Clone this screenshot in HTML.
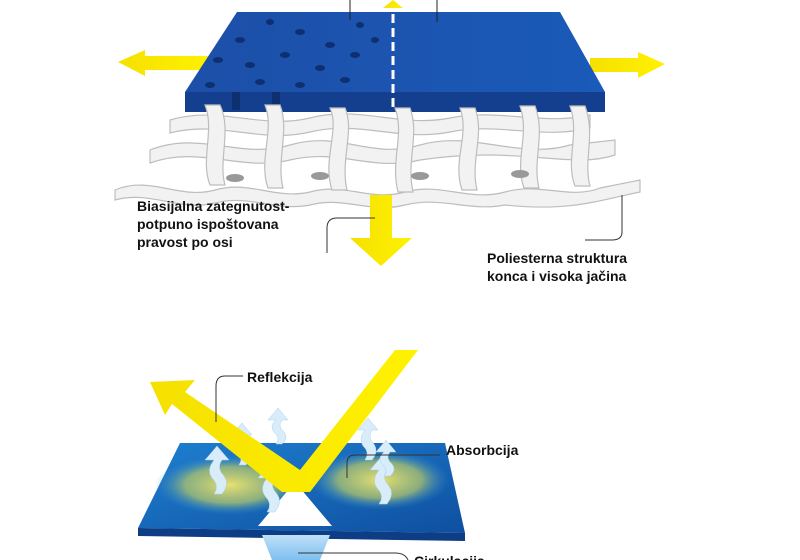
<!DOCTYPE html>
<html><head><meta charset="utf-8"><style>
html,body{margin:0;padding:0;background:#fff;width:800px;height:560px;overflow:hidden}
text{font-family:"Liberation Sans",sans-serif;font-weight:bold;font-size:14px;fill:#111}
</style></head><body>
<svg width="800" height="560" viewBox="0 0 800 560" xmlns="http://www.w3.org/2000/svg">
<defs>
<linearGradient id="bl" x1="0" y1="0" x2="1" y2="0"><stop offset="0" stop-color="#1d4fa8"/><stop offset="1" stop-color="#1a5ab8"/></linearGradient>
<linearGradient id="yl" x1="0" y1="0" x2="1" y2="0"><stop offset="0" stop-color="#f5e000"/><stop offset="1" stop-color="#fff200"/></linearGradient>
<radialGradient id="glow" cx="0.5" cy="0.5" r="0.5"><stop offset="0" stop-color="#e8e070"/><stop offset="0.6" stop-color="#a8c070" stop-opacity="0.8"/><stop offset="1" stop-color="#2a8ad0" stop-opacity="0"/></radialGradient>
<linearGradient id="bb" x1="0" y1="0" x2="1" y2="1"><stop offset="0" stop-color="#1e7fd0"/><stop offset="1" stop-color="#0f4fa0"/></linearGradient>
<linearGradient id="ca" x1="0" y1="0" x2="0" y2="1"><stop offset="0" stop-color="#bfe0f8"/><stop offset="1" stop-color="#7fc0f0"/></linearGradient>
</defs>
<!-- top yellow side arrows -->
<polygon points="118,62 145,50 145,56 215,56 215,70 145,70 145,76" fill="url(#yl)"/>
<polygon points="665,64 638,52 638,58 590,58 590,72 638,72 638,78" fill="url(#yl)"/>
<!-- slab -->
<polygon points="237,12 560,12 605,92 185,92" fill="url(#bl)"/>
<polygon points="185,92 605,92 605,112 185,112" fill="#143f8e"/>
<g fill="#0e2f70">
<ellipse cx="240" cy="40" rx="5" ry="3"/><ellipse cx="270" cy="22" rx="4" ry="3"/><ellipse cx="300" cy="32" rx="5" ry="3"/><ellipse cx="330" cy="45" rx="5" ry="3"/><ellipse cx="360" cy="25" rx="4" ry="3"/><ellipse cx="218" cy="60" rx="5" ry="3"/><ellipse cx="250" cy="65" rx="5" ry="3"/><ellipse cx="285" cy="55" rx="5" ry="3"/><ellipse cx="320" cy="68" rx="5" ry="3"/><ellipse cx="355" cy="55" rx="5" ry="3"/><ellipse cx="210" cy="85" rx="5" ry="3"/><ellipse cx="260" cy="82" rx="5" ry="3"/><ellipse cx="300" cy="85" rx="5" ry="3"/><ellipse cx="345" cy="80" rx="5" ry="3"/><ellipse cx="375" cy="40" rx="4" ry="3"/>
<rect x="232" y="92" width="8" height="18"/><rect x="272" y="92" width="8" height="18"/>
</g>
<line x1="393" y1="0" x2="393" y2="112" stroke="#fff" stroke-width="3" stroke-dasharray="9,5"/>
<polygon points="383,8 393,0 403,8" fill="url(#yl)"/>
<line x1="350" y1="0" x2="350" y2="20" stroke="#222" stroke-width="1"/>
<line x1="437" y1="0" x2="437" y2="22" stroke="#222" stroke-width="1"/>
<!-- fabric -->
<g fill="#f2f2f2" stroke="#bdbdbd" stroke-width="1.2">
<path d="M115,190 C150,175 180,200 215,190 C250,180 275,200 310,192 C345,182 370,202 405,192 C440,182 470,202 505,192 C540,182 570,200 600,188 L640,180 L640,192 C600,200 570,212 505,205 C470,212 440,196 405,205 C370,214 345,196 310,205 C275,212 250,194 215,203 C180,212 150,190 115,200 Z"/>
<path d="M150,150 C200,130 240,160 290,145 C340,130 370,160 420,145 C470,130 520,160 570,145 L615,140 L615,155 C570,170 520,145 420,160 C370,172 340,148 290,160 C240,172 200,145 150,163 Z"/>
<path d="M170,120 C220,105 260,130 310,118 C360,105 400,128 450,118 C500,108 540,126 590,115 L590,128 C540,140 500,122 450,132 C400,142 360,120 310,132 C260,144 220,120 170,133 Z"/>
<path d="M205,105 C215,130 200,160 210,185 L225,185 C218,160 232,130 220,105 Z"/>
<path d="M265,105 C275,130 258,160 268,188 L283,188 C276,160 290,130 280,105 Z"/>
<path d="M330,108 C340,130 322,160 332,190 L347,190 C340,160 355,130 345,108 Z"/>
<path d="M395,108 C405,135 390,160 398,192 L413,192 C406,160 420,135 410,108 Z"/>
<path d="M460,108 C470,135 452,160 462,190 L477,190 C470,160 485,135 475,108 Z"/>
<path d="M520,106 C530,135 514,160 524,188 L539,188 C532,160 546,135 535,106 Z"/>
<path d="M570,106 C580,135 565,160 575,186 L590,186 C583,160 596,135 585,106 Z"/>
</g>
<g fill="#999"><ellipse cx="235" cy="178" rx="9" ry="4"/><ellipse cx="320" cy="176" rx="9" ry="4"/><ellipse cx="420" cy="176" rx="9" ry="4"/><ellipse cx="520" cy="174" rx="9" ry="4"/></g>
<!-- down arrow -->
<polygon points="370,195 392,195 392,238 412,238 381,266 350,238 370,238" fill="url(#yl)"/>
<!-- top labels -->
<text x="137" y="211">Biasijalna zategnutost-</text>
<text x="137" y="229">potpuno ispoštovana</text>
<text x="137" y="247">pravost po osi</text>
<text x="487" y="263">Poliesterna struktura</text>
<text x="487" y="281">konca i visoka jačina</text>
<path d="M327,253 L327,228 Q327,218 337,218 L375,218" fill="none" stroke="#333" stroke-width="1"/>
<path d="M622,195 L622,232 Q622,240 612,240 L585,240" fill="none" stroke="#333" stroke-width="1"/>
<!-- bottom slab -->
<polygon points="180,443 445,443 465,533 138,528" fill="url(#bb)"/>
<polygon points="138,528 465,533 465,541 138,536" fill="#0c3d85"/>
<ellipse cx="230" cy="485" rx="75" ry="30" fill="url(#glow)"/>
<ellipse cx="380" cy="480" rx="70" ry="30" fill="url(#glow)"/>
<polygon points="258,526 332,526 295,482" fill="#fff"/>
<polygon points="262,535 330,535 320,560 272,560" fill="url(#ca)"/>
<!-- wavy up arrows -->
<g fill="#d8ecfa" stroke="#aad4f0" stroke-width="0.5">
<path d="M205,460 l12,-14 l12,14 h-7 q-6,8 2,16 q6,8 -2,18 h-8 q6,-8 -2,-16 q-6,-8 2,-18z"/>
<path d="M232,435 l10,-12 l10,12 h-6 q-5,8 2,14 q5,8 -2,16 h-7 q5,-8 -2,-14 q-5,-8 2,-16z"/>
<path d="M258,478 l12,-14 l12,14 h-7 q-6,8 2,16 q6,8 -2,18 h-8 q6,-8 -2,-16 q-6,-8 2,-18z"/>
<path d="M268,420 l10,-12 l10,12 h-6 q-5,6 2,12 q5,6 -2,12 h-6 q5,-6 -2,-12 q-5,-6 2,-12z"/>
<path d="M358,430 l10,-12 l10,12 h-6 q-5,8 2,14 q5,8 -2,16 h-7 q5,-8 -2,-14 q-5,-8 2,-16z"/>
<path d="M370,470 l12,-14 l12,14 h-7 q-6,8 2,16 q6,8 -2,18 h-8 q6,-8 -2,-16 q-6,-8 2,-18z"/>
<path d="M376,452 l10,-12 l10,12 h-6 q-5,6 2,12 q5,6 -2,12 h-6 q5,-6 -2,-12 q-5,-6 2,-12z"/>
</g>
<!-- yellow V -->
<polygon points="150,382 195,380 185,392 300,470 395,350 418,350 310,492 282,492 172,404 165,415" fill="url(#yl)"/>
<!-- bottom labels -->
<text x="247" y="382">Reflekcija</text>
<path d="M243,376 L225,376 Q216,376 216,386 L216,422" fill="none" stroke="#333" stroke-width="1"/>
<text x="446" y="455">Absorbcija</text>
<path d="M440,455 L355,455 Q347,455 347,463 L347,478" fill="none" stroke="#333" stroke-width="1"/>
<text x="414" y="566">Cirkulacija</text>
<path d="M298,553 L395,553 Q405,553 408,560" fill="none" stroke="#333" stroke-width="1"/>
</svg>
</body></html>
